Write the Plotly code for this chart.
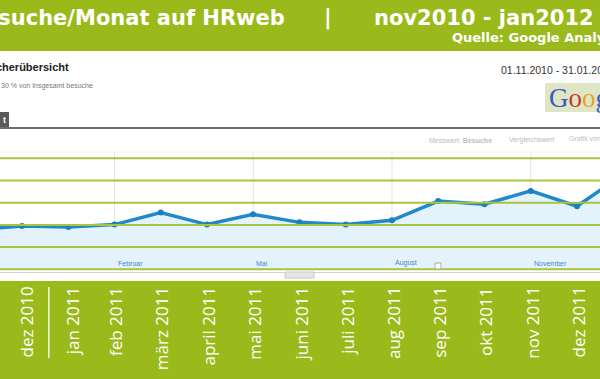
import plotly.graph_objects as go

# ---------------- data ----------------
months = ["nov 2010", "dez 2010", "jan 2011", "feb 2011", "märz 2011", "april 2011",
          "mai 2011", "juni 2011", "juli 2011", "aug 2011", "sep 2011", "okt 2011",
          "nov 2011", "dez 2011", "jan 2012"]
besuche = [1780, 1950, 1905, 2015, 2555, 2015, 2475, 2115, 2015, 2205, 3075, 2930,
           3530, 2840, 4280]
grid_values = [0, 1000, 2000, 3000, 4000, 5000]
ga_tick_idx = [0, 3, 6, 9, 12]
ga_tick_text = ["November", "Februar", "Mai", "August", "November"]
year_breaks = [1.5, 13.5]

W, H = 600, 379
x_idx = list(range(len(months)))

# pixel helpers for decorations (paper coordinates)
def px(x):
    return x / W

def py(y):
    return 1 - y / H

GREEN = "#9aba1b"
GRID_GREEN = "#a9c53e"

fig = go.Figure()

fig.add_trace(go.Scatter(
    x=x_idx, y=besuche, mode="lines+markers",
    line=dict(color="#2188cc", width=3.5),
    marker=dict(color="#1b7fc0", size=6),
    fill="tozeroy", fillcolor="#e4f2fb",
    hoverinfo="skip", showlegend=False,
))

shapes = []
annotations = []

# top banner
shapes.append(dict(type="rect", xref="paper", yref="paper", x0=0, x1=1,
                   y0=py(51), y1=1, fillcolor=GREEN, line=dict(width=0), layer="above"))
# bottom band
shapes.append(dict(type="rect", xref="paper", yref="paper", x0=0, x1=1,
                   y0=0, y1=py(281), fillcolor=GREEN, line=dict(width=0), layer="above"))

# GA vertical month grid lines
for t in ga_tick_idx:
    shapes.append(dict(type="line", xref="x", yref="paper", x0=t, x1=t,
                       y0=py(269), y1=py(152), line=dict(color="#e3e3e3", width=1),
                       layer="below"))
# GA top border line
shapes.append(dict(type="line", xref="paper", yref="paper", x0=0, x1=1,
                   y0=py(152), y1=py(152), line=dict(color="#f0f0f0", width=1), layer="below"))

# green overlay grid lines
for g in grid_values:
    shapes.append(dict(type="line", xref="paper", yref="y", x0=0, x1=1, y0=g, y1=g,
                       line=dict(color=GRID_GREEN, width=2), layer="above"))

# scrollbar line + handle
shapes.append(dict(type="line", xref="paper", yref="paper", x0=0, x1=1,
                   y0=py(272.5), y1=py(272.5), line=dict(color="#d2d2d2", width=1)))
shapes.append(dict(type="rect", xref="paper", yref="paper", x0=px(285), x1=px(314),
                   y0=py(278), y1=py(272), fillcolor="#e6e6e6",
                   line=dict(color="#c8c8c8", width=1)))
shapes.append(dict(type="rect", xref="paper", yref="paper", x0=px(435), x1=px(441),
                   y0=py(269), y1=py(263), fillcolor="#ffffff",
                   line=dict(color="#aaaaaa", width=1)))

# tab + dark rule
shapes.append(dict(type="rect", xref="paper", yref="paper", x0=-0.01, x1=px(9),
                   y0=py(128), y1=py(112), fillcolor="#5a5a5a", line=dict(width=0)))
shapes.append(dict(type="line", xref="paper", yref="paper", x0=0, x1=1,
                   y0=py(128), y1=py(128), line=dict(color="#6e6e6e", width=2)))

# Google logo box
shapes.append(dict(type="rect", xref="paper", yref="paper", x0=px(545), x1=px(610),
                   y0=py(112), y1=py(83), fillcolor="#dfe6c6", line=dict(width=0)))

# year separators in the bottom band
for b in year_breaks:
    shapes.append(dict(type="line", xref="x", yref="paper", x0=b + 0.08, x1=b + 0.08,
                       y0=py(358), y1=py(287), line=dict(color="#f4f8e4", width=1.5),
                       layer="above"))

# ---- title texts ----
TF = "DejaVu Sans"
annotations += [
    dict(text="<b>Besuche/Monat auf HRweb</b>", xref="paper", yref="paper",
         x=px(287), y=py(17.5), xanchor="right", yanchor="middle", showarrow=False,
         font=dict(family=TF, size=21, color="white")),
    dict(text="<b>|</b>", xref="paper", yref="paper",
         x=px(328), y=py(17.5), xanchor="center", yanchor="middle", showarrow=False,
         font=dict(family=TF, size=21, color="white")),
    dict(text="<b>nov2010 - jan2012</b>", xref="paper", yref="paper",
         x=px(372), y=py(17.5), xanchor="left", yanchor="middle", showarrow=False,
         font=dict(family=TF, size=21, color="white")),
    dict(text="<b>Quelle: Google Analytics</b>", xref="paper", yref="paper",
         x=px(450), y=py(37.5), xanchor="left", yanchor="middle", showarrow=False,
         font=dict(family=TF, size=13, color="white")),
]

# ---- GA header texts ----
GF = "Liberation Sans"
annotations += [
    dict(text="<b>Besucherübersicht</b>", xref="paper", yref="paper",
         x=px(71), y=py(67), xanchor="right", yanchor="middle", showarrow=False,
         font=dict(family=GF, size=11, color="#222222")),
    dict(text="30 % von Insgesamt besuche", xref="paper", yref="paper",
         x=px(-1), y=py(86), xanchor="left", yanchor="middle", showarrow=False,
         font=dict(family=GF, size=7, color="#777777")),
    dict(text="<b>t</b>", xref="paper", yref="paper",
         x=px(4), y=py(120), xanchor="center", yanchor="middle", showarrow=False,
         font=dict(family=GF, size=9, color="white")),
    dict(text="01.11.2010 - 31.01.2012", xref="paper", yref="paper",
         x=px(499), y=py(70), xanchor="left", yanchor="middle", showarrow=False,
         font=dict(family=GF, size=10.5, color="#333333")),
    dict(text="<span style='color:#3a5cb8'>G</span><span style='color:#c9382b'>o</span>"
              "<span style='color:#e0a72a'>o</span><span style='color:#3a5cb8'>g</span>"
              "<span style='color:#3d9b3d'>l</span><span style='color:#c9382b'>e</span>",
         xref="paper", yref="paper", x=px(547), y=py(98), xanchor="left", yanchor="middle",
         showarrow=False, font=dict(family="Liberation Serif", size=27)),
    dict(text="Messwert: <b>Besuche</b>", xref="paper", yref="paper",
         x=px(427), y=py(140), xanchor="left", yanchor="middle", showarrow=False,
         font=dict(family=GF, size=7, color="#bdbdbd")),
    dict(text="Vergleichswert", xref="paper", yref="paper",
         x=px(507), y=py(140), xanchor="left", yanchor="middle", showarrow=False,
         font=dict(family=GF, size=7, color="#bdbdbd")),
    dict(text="Grafik von:", xref="paper", yref="paper",
         x=px(567), y=py(139), xanchor="left", yanchor="middle", showarrow=False,
         font=dict(family=GF, size=7, color="#bdbdbd")),
]

# GA month labels
for t, lab in zip(ga_tick_idx, ga_tick_text):
    annotations.append(dict(text=lab, xref="x", yref="paper", x=t, y=py(263),
                            xanchor="left", yanchor="middle", xshift=1, showarrow=False,
                            font=dict(family=GF, size=7, color="#4a86c0")))

# rotated month labels in the bottom band
for i in range(1, 14):
    annotations.append(dict(text=months[i], xref="x", yref="paper", x=i, y=py(285),
                            xanchor="center", yanchor="top", textangle=-90,
                            xshift=4 if i <= 2 else 1, showarrow=False,
                            font=dict(family="Open Sans", size=17, color="white")))

fig.update_layout(
    width=W, height=H, margin=dict(l=0, r=0, t=0, b=0),
    paper_bgcolor="white", plot_bgcolor="white",
    xaxis=dict(range=[24.25 / 46.25, 624.25 / 46.25], visible=False, fixedrange=True),
    yaxis=dict(range=[(269.3 - 379) / 0.0222, 269.3 / 0.0222], visible=False, fixedrange=True),
    shapes=shapes, annotations=annotations, showlegend=False,
)

fig.write_html("out.html", config={"displayModeBar": False},
               post_script="document.body.style.margin='0px';document.body.style.overflow='hidden';")
